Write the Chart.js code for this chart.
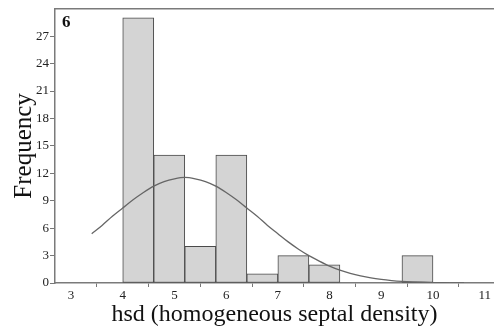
<!DOCTYPE html>
<html>
<head>
<meta charset="utf-8">
<script src="https://cdn.jsdelivr.net/npm/chart.js@4.4.1/dist/chart.umd.min.js"></script>
<style>
  html, body { margin: 0; padding: 0; background: #fff; }
  #wrap { width: 494px; height: 333px; }
</style>
</head>
<body>
<div id="wrap"><canvas id="c" width="494" height="333"></canvas></div>
<script>
// Histogram of hsd values (bin width 0.6) with a fitted normal curve
const binCenters = [4.3, 4.9, 5.5, 6.1, 6.7, 7.3, 7.9, 8.5, 9.1, 9.7];
const binCounts  = [29, 14, 4, 14, 1, 3, 2, 0, 0, 3];

// Normal curve, read along its length
const curveX = [3.4, 3.6, 3.8, 4.0, 4.2, 4.4, 4.6, 4.8, 5.0, 5.2, 5.4, 5.6, 5.8, 6.0, 6.2,
                6.4, 6.6, 6.8, 7.0, 7.2, 7.4, 7.6, 7.8, 8.0, 8.2, 8.4, 8.6, 8.8, 9.0, 9.2,
                9.4, 9.6, 9.8, 10.0, 10.2, 10.4, 10.6];
const curveY = [5.4, 6.3, 7.3, 8.2, 9.1, 9.9, 10.6, 11.1, 11.4, 11.55, 11.4, 11.1, 10.6, 9.9, 9.1,
                8.2, 7.3, 6.3, 5.4, 4.5, 3.7, 3.0, 2.4, 1.85, 1.4, 1.05, 0.77, 0.55, 0.39, 0.27,
                0.18, 0.12, 0.08, 0.05, 0.03, 0.02, 0.01];

const xTickValues = [3, 4, 5, 6, 7, 8, 9, 10, 11];
const yTickValues = [0, 3, 6, 9, 12, 15, 18, 21, 24, 27];

const panelLabel = '6';
const xTitle = 'hsd (homogeneous septal density)';
const yTitle = 'Frequency';

const serif = "'Liberation Serif', 'Times New Roman', serif";

const framePlugin = {
  id: 'frame',
  afterDraw(chart) {
    const { ctx, chartArea } = chart;
    ctx.save();
    ctx.strokeStyle = '#7a7a7a';
    ctx.lineWidth = 1.5;
    ctx.beginPath();
    ctx.moveTo(chartArea.left, chartArea.top);
    ctx.lineTo(chartArea.right, chartArea.top);
    ctx.stroke();
    ctx.fillStyle = '#111';
    ctx.font = 'bold 17px ' + serif;
    ctx.textBaseline = 'top';
    ctx.fillText(panelLabel, chartArea.left + 7, chartArea.top + 5);
    ctx.restore();
  }
};

new Chart(document.getElementById('c'), {
  data: {
    datasets: [
      {
        type: 'line',
        data: curveX.map((x, i) => ({ x: x, y: curveY[i] })),
        borderColor: '#666',
        borderWidth: 1.3,
        pointRadius: 0,
        cubicInterpolationMode: 'monotone',
        order: 0
      },
      {
        type: 'bar',
        data: binCenters.map((x, i) => ({ x: x, y: binCounts[i] })),
        backgroundColor: '#d4d4d4',
        borderColor: '#4a4a4a',
        borderWidth: 1,
        borderSkipped: false,
        barPercentage: 1,
        categoryPercentage: 1,
        order: 1
      }
    ]
  },
  options: {
    responsive: false,
    animation: false,
    layout: { padding: { top: 7, left: 0, right: 0, bottom: 0 } },
    plugins: { legend: { display: false }, tooltip: { enabled: false } },
    scales: {
      x: {
        type: 'linear',
        offset: false,
        min: 2.69,
        max: 11.18,
        afterBuildTicks(scale) { scale.ticks = xTickValues.map(v => ({ value: v })); },
        afterFit(scale) { scale.height = 50; },
        ticks: {
          color: '#222',
          font: { family: serif, size: 13 },
          padding: 1,
          maxRotation: 0,
          autoSkip: false
        },
        grid: { drawOnChartArea: false, drawTicks: true, tickLength: 4, color: '#777' },
        border: { display: true, color: '#7a7a7a', width: 1.5 },
        title: {
          display: true,
          text: xTitle,
          color: '#111',
          font: { family: serif, size: 24 },
          padding: { top: 0, bottom: 4 }
        }
      },
      y: {
        type: 'linear',
        min: 0,
        max: 30,
        afterBuildTicks(scale) { scale.ticks = yTickValues.map(v => ({ value: v })); },
        afterFit(scale) { scale.width = 55; },
        ticks: {
          color: '#222',
          font: { family: serif, size: 13 },
          padding: 1
        },
        grid: { drawOnChartArea: false, drawTicks: true, tickLength: 5, color: '#777' },
        border: { display: true, color: '#7a7a7a', width: 1.5 },
        title: {
          display: true,
          text: yTitle,
          color: '#111',
          font: { family: serif, size: 25 },
          padding: { top: 9, bottom: 0 }
        }
      }
    }
  },
  plugins: [framePlugin]
});
</script>
</body>
</html>
